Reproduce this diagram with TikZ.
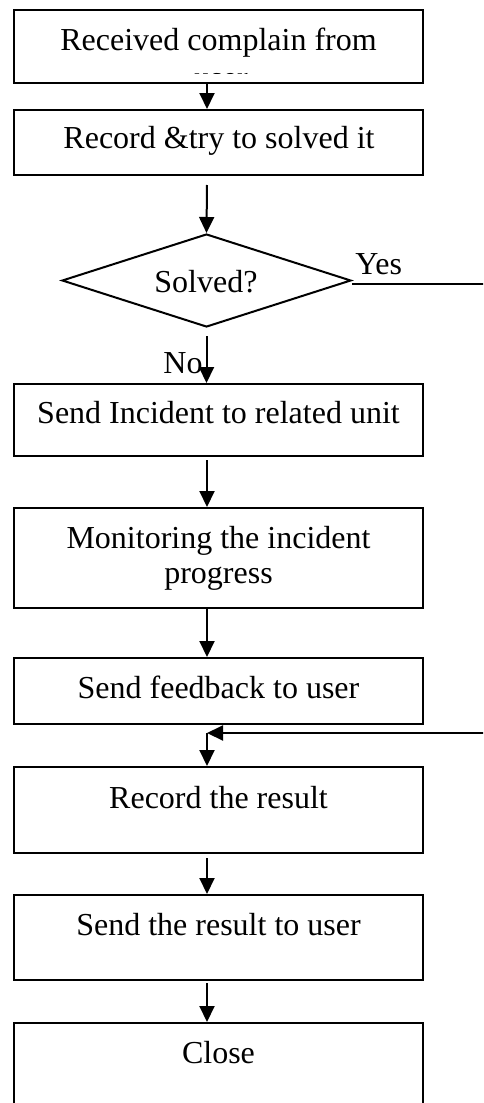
\documentclass[tikz,border=0pt]{standalone}
\usepackage{fontspec}
\setmainfont{Liberation Serif}
\usetikzlibrary{shapes.geometric,arrows.meta,calc}
\begin{document}
\begin{tikzpicture}[x=0.5pt,y=-0.5pt,
  box/.style={draw, line width=1pt, rectangle, minimum width=204.5pt, inner sep=0pt},
  decision/.style={draw, line width=1pt, diamond, minimum width=144.5pt, minimum height=46.5pt, inner sep=0pt},
  txt/.style={anchor=base, inner sep=0pt, font=\fontsize{16pt}{17.5pt}\selectfont},
  lbl/.style={anchor=base west, inner sep=0pt, font=\fontsize{16pt}{17.5pt}\selectfont},
  arr/.style={line width=1pt, -{Triangle[length=8pt,width=7.5pt]}},
  link/.style={line width=1pt}]

\useasboundingbox (0,0) rectangle (483,1103);
\clip (0,0) rectangle (483,1103);

% process boxes
\node[box, minimum height=36.5pt] (b1) at (218.5,46.5) {};
\node[box, minimum height=32.5pt] (b2) at (218.5,142.5) {};
\node[decision] (dia) at (206.5,280.5) {};
\node[box, minimum height=36pt]   (b3) at (218.5,420) {};
\node[box, minimum height=50pt]   (b4) at (218.5,558) {};
\node[box, minimum height=33pt]   (b5) at (218.5,691) {};
\node[box, minimum height=43pt]   (b6) at (218.5,810) {};
\node[box, minimum height=42.5pt] (b7) at (218.5,937.5) {};
\node[box, minimum height=48.5pt] (b8) at (218.5,1071.5) {};

% box texts
\node[txt] (t1) at (218.5,50) {Received complain from};
\begin{scope}
  % second line of the first box is cut off by its frame
  \clip (14,60) rectangle (423,73);
  \node[txt] (t1b) at (221,88) {user};
\end{scope}
\node[txt] (t2) at (219,148) {Record \&try to solved it};
\node[txt] (td) at (206,292) {Solved?};
\node[txt] (t3) at (218.5,423) {Send Incident to related unit};
\node[txt] (t4a) at (218.5,548) {Monitoring the incident};
\node[txt] (t4b) at (218.5,583) {progress};
\node[txt] (t5) at (218.5,698) {Send feedback to user};
\node[txt] (t6) at (218.5,808) {Record the result};
\node[txt] (t7) at (218.5,935) {Send the result to user};
\node[txt] (t8) at (218.5,1063) {Close};

% branch labels
\node[lbl] (yes) at (355,274) {Yes};
\node[lbl] (no) at (163,373) {No};

% helper points for the return path
\coordinate (retcorner) at (495,733);
\coordinate (ret) at (207,733);

% connectors
\draw[arr] (b1.south -| ret) -- (b2.north -| ret);
\draw[arr] ($(b2.south -| ret)+(0,9)$) -- (dia.north);
\draw[arr] ($(dia.south)+(0,8)$) -- (b3.north -| dia.south);
\draw[arr] ($(b3.south -| ret)+(0,3)$) -- (b4.north -| ret);
\draw[arr] (b4.south -| ret) -- (b5.north -| ret);
\draw[arr] ([yshift=-1.5pt]dia.east) -| (retcorner) -- (ret);
\draw[arr] (ret) -- (b6.north -| ret);
\draw[arr] ($(b6.south -| ret)+(0,4)$) -- (b7.north -| ret);
\draw[arr] ($(b7.south -| ret)+(0,2)$) -- (b8.north -| ret);
\end{tikzpicture}
\end{document}
